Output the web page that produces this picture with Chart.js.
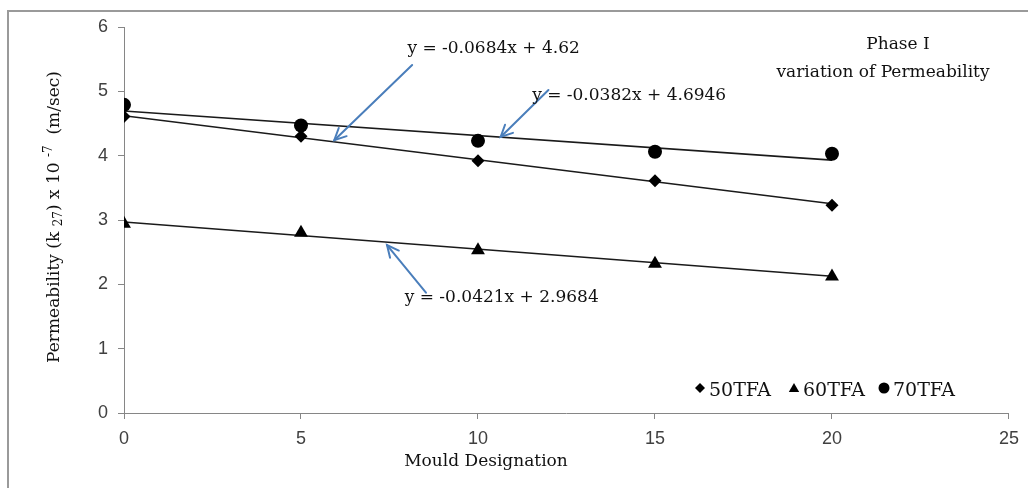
<!DOCTYPE html>
<html><head><meta charset="utf-8">
<script src="https://cdn.jsdelivr.net/npm/chart.js@4/dist/chart.umd.min.js"></script>
<style>
html,body{margin:0;padding:0;background:#fff;overflow:hidden}
canvas{display:block}
</style></head><body>
<canvas id="c" width="1028" height="488"></canvas>
<script>
// ---- data ----
const mould = [0, 5, 10, 15, 20];
const tfa50 = [4.61, 4.30, 3.92, 3.61, 3.23];
const tfa60 = [2.94, 2.80, 2.53, 2.32, 2.12];
const tfa70 = [4.79, 4.47, 4.23, 4.06, 4.03];
const seriesNames = ['50TFA', '60TFA', '70TFA'];
const trendSlopes = [-0.0684, -0.0421, -0.0382];
const trendIntercepts = [4.62, 2.9684, 4.6946];
const trendRange = [0, 20];
const xTicks = [0, 5, 10, 15, 20, 25];
const yTicks = [0, 1, 2, 3, 4, 5, 6];
const equations = ['y = -0.0684x + 4.62', 'y = -0.0421x + 2.9684', 'y = -0.0382x + 4.6946'];

const SERIF = "'DejaVu Serif', serif";
const SANS = "'Liberation Sans', sans-serif";

// annotation placement (data coordinates)
const eqPos = [[10.44, 5.66], [10.67, 1.80], [14.27, 4.94]];
const arrows = [[8.14, 5.41, 5.94, 4.24], [8.53, 1.87, 7.43, 2.61], [11.99, 5.02, 10.64, 4.29]];

const pts = arr => mould.map((m, i) => ({x: m, y: arr[i]}));
const trend = i => trendRange.map(v => ({x: v, y: trendIntercepts[i] + trendSlopes[i] * v}));

const styles = ['rectRot', 'triangle', 'circle'];
const radii = [6.5, 8, 7];
const seriesData = [tfa50, tfa60, tfa70];

const datasets = [];
seriesData.forEach((arr, i) => datasets.push({
  label: seriesNames[i], data: pts(arr), showLine: false,
  pointStyle: styles[i], pointRadius: radii[i], pointBackgroundColor: '#000',
  pointBorderColor: '#000', pointBorderWidth: 0, order: 0
}));
seriesData.forEach((arr, i) => datasets.push({
  label: 'trend ' + seriesNames[i], data: trend(i), showLine: true,
  borderColor: '#1a1a1a', borderWidth: 1.6, pointRadius: 0, order: 1
}));

function arrow(ctx, x1, y1, x2, y2) {
  ctx.beginPath(); ctx.moveTo(x1, y1); ctx.lineTo(x2, y2); ctx.stroke();
  const a = Math.atan2(y2 - y1, x2 - x1), L = 13, sp = 0.45;
  ctx.beginPath();
  ctx.moveTo(x2 - L * Math.cos(a - sp), y2 - L * Math.sin(a - sp));
  ctx.lineTo(x2, y2);
  ctx.lineTo(x2 - L * Math.cos(a + sp), y2 - L * Math.sin(a + sp));
  ctx.stroke();
}

const deco = {
  id: 'deco',
  beforeDraw(chart) {
    const ctx = chart.ctx;
    ctx.save();
    ctx.fillStyle = '#fff'; ctx.fillRect(0, 0, chart.width, chart.height);
    ctx.strokeStyle = '#9a9a9a'; ctx.lineWidth = 2;
    ctx.strokeRect(8, 11, 1030, 500);
    ctx.restore();
  },
  afterDraw(chart) {
    const {ctx, chartArea: a, scales: {x, y}} = chart;
    ctx.save();
    // arrows
    ctx.strokeStyle = '#4a7ebb'; ctx.lineWidth = 2; ctx.lineCap = 'round';
    arrows.forEach(r => arrow(ctx, x.getPixelForValue(r[0]), y.getPixelForValue(r[1]),
      x.getPixelForValue(r[2]), y.getPixelForValue(r[3])));
    // equations
    ctx.fillStyle = '#111'; ctx.font = '17px ' + SERIF;
    ctx.textAlign = 'center'; ctx.textBaseline = 'middle';
    equations.forEach((t, i) => ctx.fillText(t, x.getPixelForValue(eqPos[i][0]), y.getPixelForValue(eqPos[i][1])));
    // title block
    ctx.fillText('Phase I', a.right - 111, a.top + 18);
    ctx.fillText('variation of Permeability', a.right - 126, a.top + 46);
    // x title
    ctx.fillText('Mould Designation', a.left + 362, 462);
    // legend
    const lx = [a.right - 309, a.right - 215, a.right - 125];
    const ly = a.bottom - 25;
    const lr = [5, 6, 5.5];
    ctx.font = '19px ' + SERIF;
    seriesNames.forEach((n, i) => {
      ctx.fillStyle = '#000';
      Chart.helpers.drawPoint(ctx, {pointStyle: styles[i], radius: lr[i], borderWidth: 0}, lx[i], ly + (i === 1 ? 1 : 0));
      ctx.fillStyle = '#111';
      ctx.textAlign = 'left';
      ctx.fillText(n, lx[i] + 9, ly + 3);
    });
    // y title with sub/superscript
    ctx.translate(55, 217); ctx.rotate(-Math.PI / 2);
    const parts = [['Permeability (k ', 17, 0], ['27', 12, 4], [') x 10 ', 17, 0], ['-7', 12, -6], ['  (m/sec)', 17, 0]];
    let w = 0;
    parts.forEach(p => { ctx.font = p[1] + 'px ' + SERIF; w += ctx.measureText(p[0]).width; });
    let cx = -w / 2;
    ctx.textAlign = 'left';
    parts.forEach(p => { ctx.font = p[1] + 'px ' + SERIF; ctx.fillText(p[0], cx, p[2]); cx += ctx.measureText(p[0]).width; });
    ctx.restore();
  }
};

new Chart(document.getElementById('c'), {
  type: 'scatter',
  data: {datasets},
  plugins: [deco],
  options: {
    responsive: false, animation: false,
    layout: {padding: {top: 27, right: 16, bottom: 0, left: 0}},
    plugins: {legend: {display: false}, tooltip: {enabled: false}},
    scales: {
      x: {
        type: 'linear', min: xTicks[0], max: xTicks[xTicks.length - 1],
        afterBuildTicks: s => { s.ticks = xTicks.map(v => ({value: v})); },
        afterFit: s => { s.height = 75; },
        grid: {drawOnChartArea: false, drawTicks: true, tickLength: 6, color: '#868686'},
        border: {color: '#868686', width: 1},
        ticks: {color: '#404040', font: {family: SANS, size: 18}, padding: 9, maxRotation: 0}
      },
      y: {
        type: 'linear', min: yTicks[0], max: yTicks[yTicks.length - 1],
        afterBuildTicks: s => { s.ticks = yTicks.map(v => ({value: v})); },
        afterFit: s => { s.width = 124; },
        grid: {drawOnChartArea: false, drawTicks: true, tickLength: 6, color: '#868686'},
        border: {color: '#868686', width: 1},
        ticks: {color: '#404040', font: {family: SANS, size: 18}, padding: 10}
      }
    }
  }
});
</script>
</body></html>
